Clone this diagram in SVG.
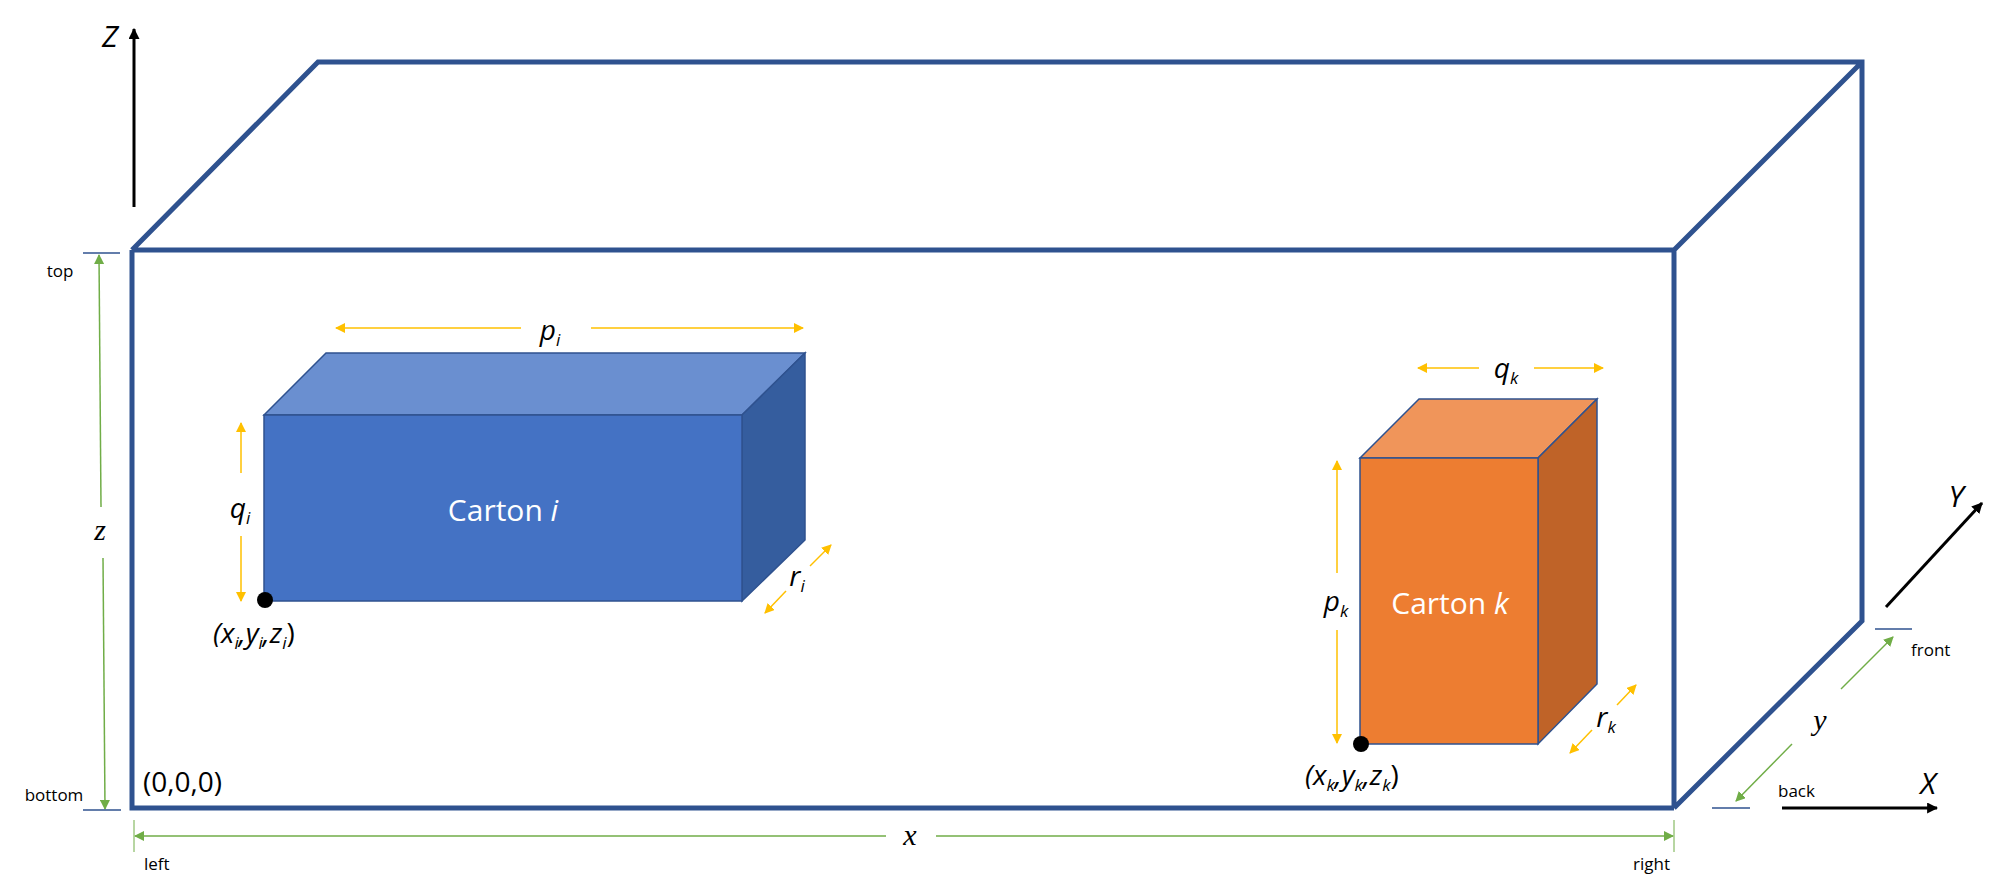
<svg xmlns="http://www.w3.org/2000/svg" width="1996" height="894" viewBox="0 0 1996 894">
<style>
.box{fill:none;stroke:#2F528F;stroke-width:5;stroke-linejoin:miter}
.y{stroke:#FFC000;stroke-width:1.5;fill:none;marker-end:url(#ay)}
.g{stroke:#70AD47;stroke-width:1.5;fill:none;marker-end:url(#ag)}
.k{stroke:#000;stroke-width:3;fill:none;marker-end:url(#ak)}
.tk{stroke:#2F528F;stroke-width:1.5}
.gt{stroke:#70AD47;stroke-width:1}
.t{font-family:"Open Sans","Liberation Sans",sans-serif;fill:#000}
.it{font-family:"Open Sans","Liberation Sans",sans-serif;font-style:italic;fill:#000}
.m{font-family:"Liberation Serif",serif;font-style:italic;fill:#000}
.w{font-family:"Open Sans","Liberation Sans",sans-serif;fill:#fff;font-size:30px}
.cs{stroke:#2F528F;stroke-width:1.5}
</style>
<defs>
<marker id="ay" viewBox="0 0 10 10" refX="9" refY="5" markerWidth="10" markerHeight="10" markerUnits="userSpaceOnUse" orient="auto"><path d="M0,0L10,5L0,10z" fill="#FFC000"/></marker>
<marker id="ag" viewBox="0 0 10 10" refX="9" refY="5" markerWidth="10" markerHeight="10" markerUnits="userSpaceOnUse" orient="auto"><path d="M0,0L10,5L0,10z" fill="#70AD47"/></marker>
<marker id="ak" viewBox="0 0 10 10" refX="9" refY="5" markerWidth="11" markerHeight="11" markerUnits="userSpaceOnUse" orient="auto"><path d="M0,0L10,5L0,10z" fill="#000"/></marker>
</defs>

<g id="container">
<path class="box" d="M132,250L318,62L1862,62L1862,621L1674,808M132,250L1674,250L1862,62M1674,250L1674,808M132,250L132,808L1674,808"/>
</g>

<g id="carton-i">
<path d="M264,415L326,353L805,353L742,415z" fill="#6A8FD0" class="cs"/>
<path d="M742,415L805,353L805,540L742,601z" fill="#355D9E" class="cs"/>
<rect x="264" y="415" width="478" height="186" fill="#4472C4" class="cs"/>
<text class="w" x="503" y="521" text-anchor="middle">Carton <tspan font-style="italic">i</tspan></text>
<circle cx="265" cy="600" r="8" fill="#000"/>
<text class="it" x="213" y="643" font-size="28">(x<tspan font-size="17" dy="6">i</tspan><tspan dy="-6">,y</tspan><tspan font-size="17" dy="6">i</tspan><tspan dy="-6">,z</tspan><tspan font-size="17" dy="6">i</tspan><tspan dy="-6" font-style="normal">)</tspan></text>
</g>

<g id="carton-k">
<path d="M1360,458L1419,399L1597,399L1538,458z" fill="#F0955A" class="cs"/>
<path d="M1538,458L1597,399L1597,684L1538,744z" fill="#BF6328" class="cs"/>
<rect x="1360" y="458" width="178" height="286" fill="#ED7D31" class="cs"/>
<text class="w" x="1450" y="614" text-anchor="middle">Carton <tspan font-style="italic">k</tspan></text>
<circle cx="1361" cy="744" r="8" fill="#000"/>
<text class="it" x="1305" y="785" font-size="28">(x<tspan font-size="17" dy="6">k</tspan><tspan dy="-6">,y</tspan><tspan font-size="17" dy="6">k</tspan><tspan dy="-6">,z</tspan><tspan font-size="17" dy="6">k</tspan><tspan dy="-6" font-style="normal">)</tspan></text>
</g>

<g id="connectors">
<line class="k" x1="134" y1="207" x2="134" y2="29"/>
<line class="k" x1="1886" y1="607" x2="1982" y2="503"/>
<line class="k" x1="1782" y1="808" x2="1937" y2="808"/>
<line class="y" x1="521" y1="328" x2="336" y2="328"/>
<line class="y" x1="591" y1="328" x2="803" y2="328"/>
<line class="y" x1="241" y1="473" x2="241" y2="423"/>
<line class="y" x1="241" y1="536" x2="241" y2="601"/>
<line class="y" x1="786" y1="591" x2="765" y2="613"/>
<line class="y" x1="810" y1="566" x2="831" y2="545"/>
<line class="y" x1="1479" y1="368" x2="1418" y2="368"/>
<line class="y" x1="1534" y1="368" x2="1603" y2="368"/>
<line class="y" x1="1337" y1="573" x2="1337" y2="461"/>
<line class="y" x1="1337" y1="630" x2="1337" y2="743"/>
<line class="y" x1="1592" y1="730" x2="1570" y2="753"/>
<line class="y" x1="1617" y1="705" x2="1636" y2="685"/>
<line class="g" x1="101" y1="507" x2="99" y2="255"/>
<line class="g" x1="103" y1="558" x2="105" y2="809"/>
<line class="g" x1="886" y1="836" x2="135" y2="836"/>
<line class="g" x1="936" y1="836" x2="1673" y2="836"/>
<line class="g" x1="1841" y1="689" x2="1893" y2="637"/>
<line class="g" x1="1792" y1="744" x2="1736" y2="801"/>
<line class="tk" x1="83" y1="253" x2="120" y2="253"/>
<line class="tk" x1="83" y1="810" x2="121" y2="810"/>
<line class="tk" x1="1875" y1="629" x2="1912" y2="629"/>
<line class="tk" x1="1712" y1="808" x2="1750" y2="808"/>
<line class="gt" x1="134" y1="820" x2="134" y2="852"/>
<line class="gt" x1="1674" y1="820" x2="1674" y2="852"/>
</g>

<g id="labels">
<text class="it" x="110" y="47" font-size="30" text-anchor="middle">Z</text>
<text class="it" x="1956" y="507" font-size="30" text-anchor="middle">Y</text>
<text class="it" x="1928" y="794" font-size="30" text-anchor="middle">X</text>
<text class="t" x="60" y="277" font-size="17" text-anchor="middle">top</text>
<text class="t" x="54" y="801" font-size="17" text-anchor="middle">bottom</text>
<text class="t" x="144" y="870" font-size="17">left</text>
<text class="t" x="1670" y="870" font-size="17" text-anchor="end">right</text>
<text class="t" x="1911" y="656" font-size="17">front</text>
<text class="t" x="1778" y="797" font-size="17">back</text>
<text class="t" x="143" y="792" font-size="28">(0,0,0)</text>
<text class="m" x="100" y="540" font-size="30" text-anchor="middle">z</text>
<text class="m" x="910" y="845" font-size="30" text-anchor="middle">x</text>
<text class="m" x="1820" y="730" font-size="30" text-anchor="middle">y</text>
<text class="it" x="550" y="340" font-size="28" text-anchor="middle">p<tspan font-size="17" dy="6">i</tspan></text>
<text class="it" x="240" y="518" font-size="28" text-anchor="middle">q<tspan font-size="17" dy="6">i</tspan></text>
<text class="it" x="797" y="586" font-size="28" text-anchor="middle">r<tspan font-size="17" dy="6">i</tspan></text>
<text class="it" x="1506" y="378" font-size="28" text-anchor="middle">q<tspan font-size="17" dy="6">k</tspan></text>
<text class="it" x="1336" y="611" font-size="28" text-anchor="middle">p<tspan font-size="17" dy="6">k</tspan></text>
<text class="it" x="1606" y="727" font-size="28" text-anchor="middle">r<tspan font-size="17" dy="6">k</tspan></text>
</g>
</svg>
